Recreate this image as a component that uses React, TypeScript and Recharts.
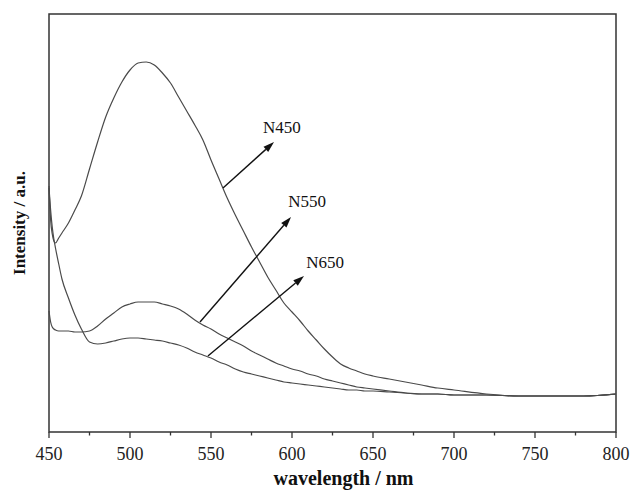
import React from 'react';
import {
  ComposedChart,
  Line,
  XAxis,
  YAxis,
  ReferenceArea,
  ReferenceLine,
  ReferenceDot,
} from 'recharts';

// wavelength grid (nm) shared by all three spectra
const wavelengths = [
  450, 451, 452, 453, 454, 456, 458, 462, 466, 470, 475, 480, 485, 490, 495, 500,
  505, 510, 515, 520, 525, 530, 535, 540, 545, 550, 555, 560, 565, 570, 575, 580,
  585, 590, 595, 600, 605, 610, 615, 620, 625, 630, 635, 640, 645, 650, 660, 670,
  680, 690, 700, 720, 740, 760, 780, 800,
];

// intensities in arbitrary units
const n450 = [
  246, 212, 198, 191, 189, 194, 199, 209, 222, 236, 263, 290, 315, 334, 350, 362,
  369, 370, 367, 359, 349, 335, 321, 307, 292, 272, 253, 234, 217, 201, 185, 170,
  155, 142, 129, 120, 111, 101, 92, 83, 75, 68, 64, 61, 58, 56, 53, 50,
  47, 44, 42, 38, 36, 36, 36, 38,
];

const n550 = [
  121, 110, 105, 103, 102, 101, 101, 101, 100, 100, 101, 106, 113, 119, 125, 128,
  130, 130, 130, 128, 126, 123, 118, 112, 107, 103, 98, 94, 90, 86, 81, 77,
  73, 69, 66, 63, 61, 58, 56, 53, 51, 49, 47, 45, 44, 43, 41, 39,
  38, 38, 37, 37, 36, 36, 36, 38,
];

const n650 = [
  244, 222, 205, 193, 184, 168, 153, 134, 117, 103, 90, 88, 89, 91, 93, 94,
  94, 93, 92, 91, 89, 87, 84, 80, 77, 74, 70, 67, 63, 60, 58, 56,
  54, 52, 50, 49, 48, 47, 46, 45, 44, 43, 42, 42, 41, 41, 40, 39,
  38, 38, 37, 37, 36, 36, 36, 38,
];

const xTicks = [450, 475, 500, 525, 550, 575, 600, 625, 650, 675, 700, 725, 750, 775, 800];

// annotation arrows: [label, tail x, tail y, head x, head y, text x, text y]
const annotations: Array<[string, number, number, number, number, number, number]> = [
  ['N450', 557.4, 244, 588.9, 290, 593.8, 299],
  ['N550', 543.2, 110, 599.4, 215, 609.3, 225],
  ['N650', 548.1, 76, 607.4, 156, 620.4, 164],
];

const data = wavelengths.map((w, i) => ({
  wavelength: w,
  n450: n450[i],
  n550: n550[i],
  n650: n650[i],
}));

const SERIF = '"Liberation Serif", "Times New Roman", serif';
const CURVE = '#4a4a4a';

const XTick = ({ x, y, payload }: any) => {
  const major = payload.value % 50 === 0;
  return (
    <g>
      <line x1={x} y1={y} x2={x} y2={y + (major ? 6 : 3.5)} stroke="#333" strokeWidth={1.3} />
      {major && (
        <text x={x} y={y + 28} textAnchor="middle" fontFamily={SERIF} fontSize={18} fill="#222">
          {payload.value}
        </text>
      )}
    </g>
  );
};

const XLabel = ({ viewBox }: any) => (
  <text
    x={viewBox.x + viewBox.width / 2 + 11}
    y={viewBox.y + 53}
    textAnchor="middle"
    fontFamily={SERIF}
    fontWeight="bold"
    fontSize={20}
    fill="#111"
  >
    wavelength / nm
  </text>
);

const YLabel = ({ viewBox }: any) => {
  const cx = 25;
  const cy = viewBox.y + viewBox.height / 2;
  return (
    <text
      x={cx}
      y={cy}
      transform={`rotate(-90 ${cx} ${cy})`}
      textAnchor="middle"
      fontFamily={SERIF}
      fontWeight="bold"
      fontSize={17}
      fill="#111"
    >
      Intensity / a.u.
    </text>
  );
};

const Arrow = (props: any) => {
  const { x1, y1, x2, y2 } = props;
  const ang = Math.atan2(y2 - y1, x2 - x1);
  const len = 11;
  const half = 3.5;
  const bx = x2 - len * Math.cos(ang);
  const by = y2 - len * Math.sin(ang);
  const px = -Math.sin(ang) * half;
  const py = Math.cos(ang) * half;
  return (
    <g>
      <line x1={x1} y1={y1} x2={bx} y2={by} stroke="#111" strokeWidth={1.4} />
      <polygon points={`${x2},${y2} ${bx + px},${by + py} ${bx - px},${by - py}`} fill="#111" />
    </g>
  );
};

const makeTextShape = (label: string) => (props: any) => (
  <text x={props.cx} y={props.cy} textAnchor="middle" fontFamily={SERIF} fontSize={17} fill="#111">
    {label}
  </text>
);

export default function App() {
  return (
    <div style={{ position: 'absolute', left: 0, top: 0, background: '#fff' }}>
      <ComposedChart
        width={632}
        height={490}
        data={data}
        margin={{ top: 14, right: 16, bottom: 0, left: 0 }}
      >
        <XAxis
          dataKey="wavelength"
          type="number"
          domain={[450, 800]}
          ticks={xTicks}
          interval={0}
          tickLine={false}
          tickSize={0}
          tickMargin={0}
          axisLine={false}
          tick={<XTick />}
          height={58}
          label={<XLabel />}
        />
        <YAxis
          type="number"
          domain={[0, 418]}
          width={49}
          tick={false}
          tickLine={false}
          axisLine={false}
          label={<YLabel />}
        />
        <ReferenceArea
          x1={450}
          x2={800}
          y1={0}
          y2={418}
          fill="none"
          fillOpacity={0}
          stroke="#333"
          strokeWidth={1.5}
        />
        <Line type="monotone" dataKey="n450" stroke={CURVE} strokeWidth={1.2} dot={false} isAnimationActive={false} />
        <Line type="monotone" dataKey="n550" stroke={CURVE} strokeWidth={1.2} dot={false} isAnimationActive={false} />
        <Line type="monotone" dataKey="n650" stroke={CURVE} strokeWidth={1.2} dot={false} isAnimationActive={false} />
        {annotations.map(([label, tx, ty, hx, hy]) => (
          <ReferenceLine
            key={`arrow-${label}`}
            segment={[
              { x: tx, y: ty },
              { x: hx, y: hy },
            ]}
            shape={<Arrow />}
          />
        ))}
        {annotations.map(([label, , , , , lx, ly]) => (
          <ReferenceDot key={`text-${label}`} x={lx} y={ly} r={0} shape={makeTextShape(label)} />
        ))}
      </ComposedChart>
    </div>
  );
}
